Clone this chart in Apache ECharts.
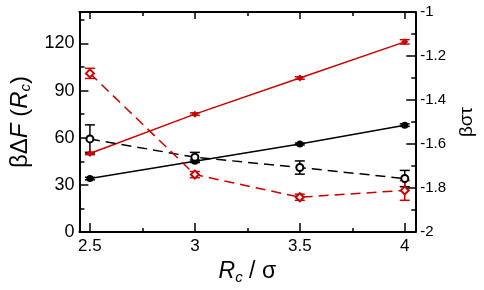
<!DOCTYPE html>
<html>
<head>
<meta charset="utf-8">
<script src="https://cdn.jsdelivr.net/npm/echarts@6/dist/echarts.min.js"></script>
<style>
  html, body { margin: 0; padding: 0; background: #fff; }
  #chart { width: 484px; height: 290px; }
</style>
</head>
<body>
<div id="chart"></div>
<script>
// Rc / sigma
var rc = [2.5, 3, 3.5, 4];
var majorX = [2.5, 3, 3.5, 4];
var minorX = [2.75, 3.25, 3.75];
var majorLeft = [0, 30, 60, 90, 120];
var minorLeft = [15, 45, 75, 105, 135];

// beta dF(Rc), left axis
var dfRed = [50, 75, 98, 121];
var dfRedErr = [0.8, 0.8, 0.8, 1.4];
var dfBlack = [34, 45, 56, 68];
var dfBlackErr = [0.8, 0.8, 0.6, 0.8];

// beta sigma tau, right axis
var tauBlack = [-1.577, -1.66, -1.707, -1.757];
var tauBlackErr = [0.064, 0.022, 0.03, 0.037];
var tauRed = [-1.279, -1.739, -1.842, -1.811];
var tauRedErr = [0.023, 0.014, 0.014, 0.045];

var RED = "#c80000";
var FONT = "Liberation Sans";

function pts(v) {
  return rc.map(function (x, i) { return [x, v[i]]; });
}
function bars(v, e) {
  return rc.map(function (x, i) { return [x, v[i] - e[i], v[i] + e[i]]; });
}
function errorSeries(v, e, color, yIdx) {
  return {
    type: "custom",
    xAxisIndex: 0,
    yAxisIndex: yIdx,
    z: 3,
    silent: true,
    renderItem: function (params, api) {
      var lo = api.coord([api.value(0), api.value(1)]);
      var hi = api.coord([api.value(0), api.value(2)]);
      var w = 5;
      var st = { stroke: color, lineWidth: 1.5 };
      return {
        type: "group",
        children: [
          { type: "line", shape: { x1: lo[0], y1: lo[1], x2: hi[0], y2: hi[1] }, style: st },
          { type: "line", shape: { x1: lo[0] - w, y1: lo[1], x2: lo[0] + w, y2: lo[1] }, style: st },
          { type: "line", shape: { x1: hi[0] - w, y1: hi[1], x2: hi[0] + w, y2: hi[1] }, style: st }
        ]
      };
    },
    data: bars(v, e)
  };
}

var tickStyle = { color: "#000", width: 1.5 };
var subRich = {
  n: { fontFamily: FONT, fontSize: 23, color: "#000" },
  i: { fontFamily: FONT, fontSize: 23, fontStyle: "italic", color: "#000" },
  s: { fontFamily: FONT, fontSize: 15, fontStyle: "italic", color: "#000", padding: [12, 0, 0, 0] }
};

var chart = echarts.init(document.getElementById("chart"));
chart.setOption({
  animation: false,
  backgroundColor: "#fff",
  grid: { left: 74, right: 63, top: 12, bottom: 56 },
  xAxis: [
    {
      type: "value", position: "bottom", min: 2.45, max: 4.05,
      axisLine: { onZero: false, lineStyle: { color: "#000", width: 2 } },
      axisTick: { inside: true, length: 9, customValues: majorX, lineStyle: tickStyle },
      axisLabel: { customValues: majorX, fontFamily: FONT, fontSize: 17, color: "#000", margin: 6 },
      splitLine: { show: false },
      name: "{i|R}{s|c}{n| / σ}",
      nameLocation: "middle",
      nameGap: 26,
      nameTextStyle: { rich: subRich }
    },
    {
      type: "value", position: "bottom", min: 2.45, max: 4.05,
      axisLine: { show: false, onZero: false },
      axisTick: { inside: true, length: 4, customValues: minorX, lineStyle: tickStyle },
      axisLabel: { show: false },
      splitLine: { show: false }
    },
    {
      type: "value", position: "top", min: 2.45, max: 4.05,
      axisLine: { onZero: false, lineStyle: { color: "#000", width: 2 } },
      axisTick: { inside: true, length: 7, customValues: majorX, lineStyle: tickStyle },
      axisLabel: { show: false },
      splitLine: { show: false }
    },
    {
      type: "value", position: "top", min: 2.45, max: 4.05,
      axisLine: { show: false, onZero: false },
      axisTick: { inside: true, length: 4, customValues: minorX, lineStyle: tickStyle },
      axisLabel: { show: false },
      splitLine: { show: false }
    }
  ],
  yAxis: [
    {
      type: "value", position: "left", min: 0, max: 140,
      axisLine: { show: true, onZero: false, lineStyle: { color: "#000", width: 2 } },
      axisTick: { show: true, inside: true, length: 9, customValues: majorLeft, lineStyle: tickStyle },
      axisLabel: { customValues: majorLeft, fontFamily: FONT, fontSize: 18, color: "#000", margin: 5 },
      splitLine: { show: false },
      name: "{n|βΔ}{i|F}{n| (}{i|R}{s|c}{n|)}",
      nameLocation: "middle",
      nameRotate: 90,
      nameGap: 45,
      nameTextStyle: { rich: {
        n: { fontFamily: FONT, fontSize: 24, color: "#000" },
        i: { fontFamily: FONT, fontSize: 24, fontStyle: "italic", color: "#000" },
        s: { fontFamily: FONT, fontSize: 15, fontStyle: "italic", color: "#000", padding: [12, 0, 0, 0] }
      } }
    },
    {
      type: "value", position: "right", min: -2, max: -1, interval: 0.2,
      axisLine: { show: true, onZero: false, lineStyle: { color: "#000", width: 2 } },
      axisTick: { show: true, inside: true, length: 9, lineStyle: tickStyle },
      minorTick: { show: true, splitNumber: 2, length: 4, lineStyle: { color: "#000", width: 1.5 } },
      axisLabel: { fontFamily: FONT, fontSize: 15, color: "#000", margin: 5 },
      splitLine: { show: false },
      name: "βστ",
      nameLocation: "middle",
      nameRotate: 90,
      nameGap: 40,
      nameTextStyle: { fontFamily: FONT, fontSize: 19, color: "#000" }
    },
    {
      type: "value", position: "left", min: 0, max: 140,
      axisLine: { show: false, onZero: false },
      axisTick: { show: true, inside: true, length: 5, customValues: minorLeft, lineStyle: tickStyle },
      axisLabel: { show: false },
      splitLine: { show: false }
    }
  ],
  series: [
    errorSeries(dfRed, dfRedErr, RED, 0),
    errorSeries(dfBlack, dfBlackErr, "#000", 0),
    errorSeries(tauBlack, tauBlackErr, "#000", 1),
    errorSeries(tauRed, tauRedErr, RED, 1),
    {
      type: "line", xAxisIndex: 0, yAxisIndex: 0, data: pts(dfRed),
      symbol: "diamond", symbolSize: 7, z: 4,
      lineStyle: { color: RED, width: 1.5 }, itemStyle: { color: RED }
    },
    {
      type: "line", xAxisIndex: 0, yAxisIndex: 0, data: pts(dfBlack),
      symbol: "circle", symbolSize: 7, z: 4,
      lineStyle: { color: "#000", width: 1.5 }, itemStyle: { color: "#000" }
    },
    {
      type: "line", xAxisIndex: 0, yAxisIndex: 1, data: pts(tauBlack),
      symbol: "emptyCircle", symbolSize: 7, z: 4,
      lineStyle: { color: "#000", width: 1.5, type: [10, 6] },
      itemStyle: { color: "#000", borderWidth: 1.5 }
    },
    {
      type: "line", xAxisIndex: 0, yAxisIndex: 1, data: pts(tauRed),
      symbol: "emptyDiamond", symbolSize: 8, z: 4,
      lineStyle: { color: RED, width: 1.5, type: [10, 6] },
      itemStyle: { color: RED, borderWidth: 1.5 }
    }
  ]
});
</script>
</body>
</html>
